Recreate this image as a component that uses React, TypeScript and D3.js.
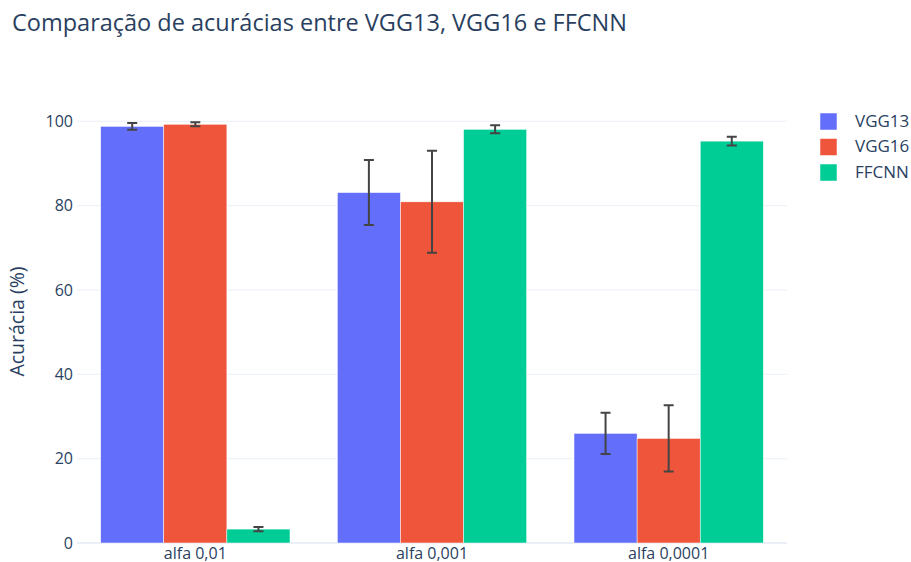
import React, { useEffect, useRef } from 'react';
import * as d3 from 'd3';

// dados
const categories = ['alfa 0,01', 'alfa 0,001', 'alfa 0,0001'];
const seriesNames = ['VGG13', 'VGG16', 'FFCNN'];
const seriesColors = ['#636efa', '#EF553B', '#00cc96'];
const vgg13Values = [98.8, 83.1, 26.0];
const vgg13Errors = [0.8, 7.7, 4.9];
const vgg16Values = [99.3, 80.9, 24.8];
const vgg16Errors = [0.5, 12.1, 7.85];
const ffcnnValues = [3.3, 98.1, 95.3];
const ffcnnErrors = [0.5, 0.95, 1.05];
const yTicks = [0, 20, 40, 60, 80, 100];

const App = () => {
  const svgRef = useRef<SVGSVGElement>(null);

  useEffect(() => {
    const width = 911;
    const height = 562;
    const margin = { top: 100, right: 124, bottom: 19, left: 77 };
    const font = '"Open Sans", verdana, arial, sans-serif';
    const textColor = '#2a3f5f';

    const svg = d3.select(svgRef.current);
    svg.selectAll('*').remove();

    const values = [vgg13Values, vgg16Values, ffcnnValues];
    const errors = [vgg13Errors, vgg16Errors, ffcnnErrors];

    const x0 = d3.scaleBand()
      .domain(categories)
      .range([margin.left, width - margin.right])
      .paddingInner(0.2)
      .paddingOuter(0.1);

    const x1 = d3.scaleBand()
      .domain(seriesNames)
      .range([0, x0.bandwidth()]);

    const y = d3.scaleLinear()
      .domain([0, 105.05])
      .range([height - margin.bottom, margin.top]);

    // grade
    svg.append('g')
      .selectAll('line')
      .data(yTicks)
      .join('line')
      .attr('x1', margin.left)
      .attr('x2', width - margin.right)
      .attr('y1', d => y(d))
      .attr('y2', d => y(d))
      .attr('stroke', '#EBF0F8')
      .attr('stroke-width', d => (d === 0 ? 2 : 1));

    // barras
    seriesNames.forEach((name, si) => {
      svg.append('g')
        .selectAll('rect')
        .data(categories)
        .join('rect')
        .attr('x', c => x0(c)! + x1(name)!)
        .attr('y', (c, i) => y(values[si][i]))
        .attr('width', x1.bandwidth())
        .attr('height', (c, i) => y(0) - y(values[si][i]))
        .attr('fill', seriesColors[si])
        .attr('stroke', '#fff')
        .attr('stroke-width', 0.5);
    });

    // barras de erro
    seriesNames.forEach((name, si) => {
      const g = svg.append('g');
      categories.forEach((c, i) => {
        const cx = x0(c)! + x1(name)! + x1.bandwidth() / 2;
        const top = y(values[si][i] + errors[si][i]);
        const bot = y(values[si][i] - errors[si][i]);
        const path = `M${cx - 5},${top}H${cx + 5}M${cx},${top}V${bot}M${cx - 5},${bot}H${cx + 5}`;
        g.append('path')
          .attr('d', path)
          .attr('fill', 'none')
          .attr('stroke', '#444')
          .attr('stroke-width', 2);
      });
    });

    // eixo y
    svg.append('g')
      .selectAll('text')
      .data(yTicks)
      .join('text')
      .attr('x', margin.left - 4)
      .attr('y', d => y(d))
      .attr('dy', '0.35em')
      .attr('text-anchor', 'end')
      .style('font-family', font)
      .style('font-size', '16px')
      .style('fill', textColor)
      .text(d => d);

    // eixo x
    svg.append('g')
      .selectAll('text')
      .data(categories)
      .join('text')
      .attr('x', d => x0(d)! + x0.bandwidth() / 2)
      .attr('y', height - margin.bottom + 16)
      .attr('text-anchor', 'middle')
      .style('font-family', font)
      .style('font-size', '16px')
      .style('fill', textColor)
      .text(d => d);

    svg.append('text')
      .attr('transform', `translate(24,${(margin.top + height - margin.bottom) / 2}) rotate(-90)`)
      .attr('text-anchor', 'middle')
      .style('font-family', font)
      .style('font-size', '19.5px')
      .style('fill', textColor)
      .text('Acurácia (%)');

    svg.append('text')
      .attr('x', 12)
      .attr('y', 31)
      .style('font-family', font)
      .style('font-size', '23.5px')
      .style('fill', textColor)
      .text('Comparação de acurácias entre VGG13, VGG16 e FFCNN');

    // legenda
    const legend = svg.append('g')
      .selectAll('g')
      .data(seriesNames)
      .join('g')
      .attr('transform', (d, i) => `translate(820,${121 + i * 25.5})`);

    legend.append('rect')
      .attr('x', 0)
      .attr('y', -8)
      .attr('width', 17)
      .attr('height', 17)
      .attr('fill', (d, i) => seriesColors[i])
      .attr('stroke', '#fff')
      .attr('stroke-width', 0.5);

    legend.append('text')
      .attr('x', 35)
      .attr('dy', '0.35em')
      .style('font-family', font)
      .style('font-size', '17px')
      .style('fill', textColor)
      .text(d => d);
  }, []);

  return (
    <svg
      ref={svgRef}
      width={911}
      height={562}
      style={{ display: 'block', position: 'absolute', left: 0, top: 0, background: '#fff' }}
    />
  );
};

export default App;
